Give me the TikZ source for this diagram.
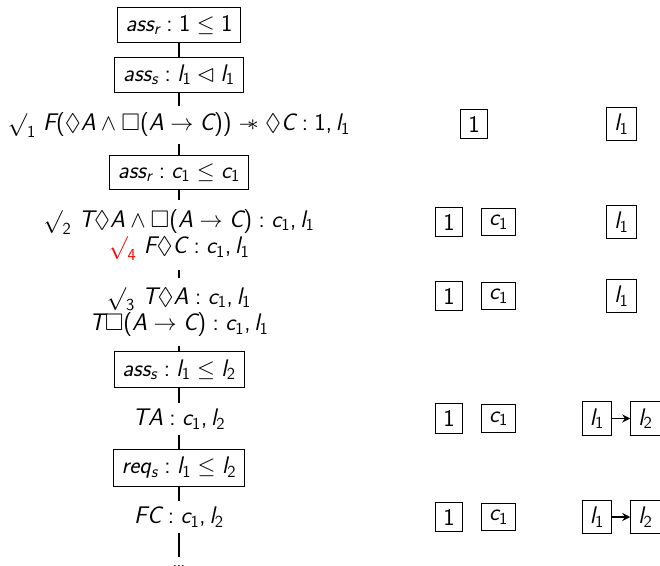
\documentclass[tikz,border=0pt]{standalone}
\usepackage{amssymb}
\usetikzlibrary{arrows.meta}
\SetSymbolFont{operators}{normal}{TU}{lmss}{m}{n}
\SetSymbolFont{letters}{normal}{TU}{lmss}{m}{sl}
\mathcode`,="602C
\newcommand{\wand}{\mathrel{-\mkern-7mu\ast}}
\begin{document}
\begin{tikzpicture}[x=0.75pt,y=-0.75pt,
  font=\fontsize{18}{21}\selectfont,
  lab/.style={draw, line width=0.6pt, inner xsep=6.3pt, inner ysep=5.8pt},
  frm/.style={inner sep=4.5pt},
  frm2/.style={align=center, inner xsep=4pt, inner ysep=7pt, font=\fontsize{18}{19.8}\selectfont},
  seg/.style={line width=1.6pt},
  cell/.style={draw, line width=0.6pt, inner xsep=5.8pt, inner ysep=5pt},
  lnk/.style={line width=1.2pt, -{Stealth[length=6pt,width=6pt]}}
]
\useasboundingbox (0,0) rectangle (660,566);
% main column
\node[lab] (b1) at (179,25) {$ass_r : 1 \leq 1$};
\node[lab] (b2) at (179,75) {$ass_s : l_1 \lhd l_1$};
\node[frm] (f1) at (179,125) {$\surd_1\ F(\Diamond A \wedge \Box(A \to C)) \wand \Diamond C : 1, l_1$};
\node[lab] (b3) at (179,172.5) {$ass_r : c_1 \leq c_1$};
\node[frm2] (f2) at (179,235) {$\surd_2\ T\Diamond A \wedge \Box(A \to C) : c_1, l_1$\\ $\color{red}\surd_4$\ $F\Diamond C : c_1, l_1$};
\node[frm2] (f3) at (179,312) {$\surd_3\ T\Diamond A : c_1, l_1$\\ $T\Box(A \to C) : c_1, l_1$};
\node[lab] (b4) at (179,369.5) {$ass_s : l_1 \leq l_2$};
\node[frm] (f4) at (179,419) {$TA : c_1, l_2$};
\node[lab] (b5) at (179,468) {$req_s : l_1 \leq l_2$};
\node[frm] (f5) at (179,517) {$FC : c_1, l_2$};
\node[anchor=base, inner sep=0pt] (dd) at (179,567) {\dots};
\coordinate (dend) at (179,557);
\draw[seg] (b1) -- (b2);
\draw[seg] (b2) -- (f1);
\draw[seg] (f1) -- (b3);
\draw[seg] (b3) -- (f2);
\draw[seg] (f2) -- (f3);
\draw[seg] (f3) -- (b4);
\draw[seg] (b4) -- (f4);
\draw[seg] (f4) -- (b5);
\draw[seg] (b5) -- (f5);
\draw[line width=2.2pt] (f5) -- (dend);
% right side
\node[cell] (r1a) at (474,124) {$1$};
\node[cell] (r1c) at (621.5,124) {$l_1$};
\node[cell] (r2a) at (449,222) {$1$};
\node[cell] (r2b) at (498.5,222) {$c_1$};
\node[cell] (r2c) at (621.5,222) {$l_1$};
\node[cell] (r3a) at (449,296) {$1$};
\node[cell] (r3b) at (498.5,296) {$c_1$};
\node[cell] (r3c) at (621.5,296) {$l_1$};
\node[cell] (r4a) at (449,418.5) {$1$};
\node[cell] (r4b) at (498.5,418.5) {$c_1$};
\node[cell] (r4c) at (597,418.5) {$l_1$};
\node[cell] (r4d) at (645.5,418.5) {$l_2$};
\node[cell] (r5a) at (449,517) {$1$};
\node[cell] (r5b) at (498.5,517) {$c_1$};
\node[cell] (r5c) at (597,517) {$l_1$};
\node[cell] (r5d) at (645.5,517) {$l_2$};
\draw[lnk] (r4c) -- (r4d);
\draw[lnk] (r5c) -- (r5d);
\end{tikzpicture}
\end{document}
